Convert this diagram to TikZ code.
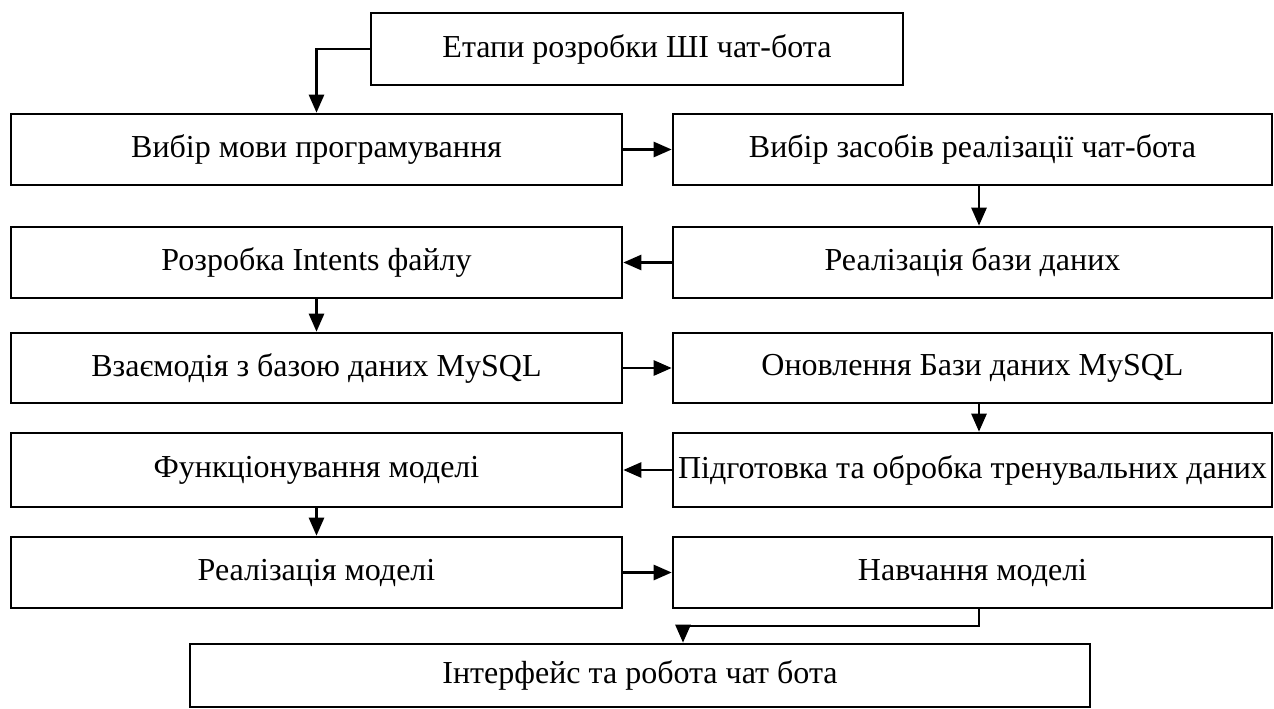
\documentclass[tikz,border=0pt]{standalone}
\usepackage{fontspec}
\setmainfont{Liberation Serif}
\usetikzlibrary{arrows.meta,calc}
\begin{document}
\begin{tikzpicture}[x=1pt,y=-1pt,
  box/.style={draw,line width=2.6pt,inner sep=0pt,font=\fontsize{32}{36}\selectfont},
  lbox/.style={box,minimum width=611pt,minimum height=71pt},
  rbox/.style={box,minimum width=599pt,minimum height=71pt},
  conn/.style={line width=2.6pt,-{Triangle[length=18pt,width=15pt]}}]
\useasboundingbox (0,0) rectangle (1274,709);
\node[box,minimum width=532pt,minimum height=72pt] (top) at (637,49) {Етапи розробки ШІ чат-бота};
\node[lbox] (L1) at (316.5,149.5) {Вибір мови програмування};
\node[rbox] (R1) at (972.5,149.5) {Вибір засобів реалізації чат-бота};
\node[lbox] (L2) at (316.5,262.5) {Розробка Intents файлу};
\node[rbox] (R2) at (972.5,262.5) {Реалізація бази даних};
\node[lbox,minimum height=70pt] (L3) at (316.5,368) {Взаємодія з базою даних MySQL};
\node[rbox,minimum height=70pt] (R3) at (972.5,368) {Оновлення Бази даних MySQL};
\node[lbox,minimum height=74pt] (L4) at (316.5,470) {Функціонування моделі};
\node[rbox,minimum height=74pt] (R4) at (972.5,470) {Підготовка та обробка тренувальних даних};
\node[lbox] (L5) at (316.5,572.5) {Реалізація моделі};
\node[rbox] (R5) at (972.5,572.5) {Навчання моделі};
\node[box,minimum width=900pt,minimum height=63pt] (B) at (640,675.5) {Інтерфейс та робота чат бота};
\draw[conn] (top.west) -| (L1.north);
\draw[conn] (L1.east) -- (R1.west);
\draw[conn] ([xshift=6.5pt]R1.south) -- ([xshift=6.5pt]R2.north);
\draw[conn] (R2.west) -- (L2.east);
\draw[conn] (L2.south) -- (L3.north);
\draw[conn] (L3.east) -- (R3.west);
\draw[conn] ([xshift=6.5pt]R3.south) -- ([xshift=6.5pt]R4.north);
\draw[conn] (R4.west) -- (L4.east);
\draw[conn] (L4.south) -- (L5.north);
\draw[conn] (L5.east) -- (R5.west);
\coordinate (c1) at (979,626);
\coordinate (c2) at (683,626);
\draw[conn] ([xshift=6.5pt]R5.south) -- (c1) -- (c2) -- (c2 |- B.north);
\end{tikzpicture}
\end{document}
